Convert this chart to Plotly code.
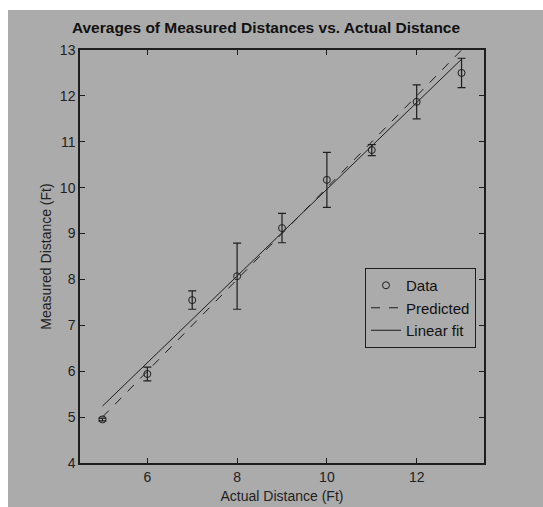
import plotly.graph_objects as go

actual = [5, 6, 7, 8, 9, 10, 11, 12, 13]
measured = [4.95, 5.94, 7.55, 8.07, 9.12, 10.17, 10.82, 11.87, 12.50]
err = [0.03, 0.15, 0.20, 0.72, 0.32, 0.60, 0.12, 0.37, 0.32]

pred_x = [5, 13]
pred_y = [5, 13]

fit_x = [5, 13]
fit_y = [5.24, 12.80]

x_ticks = [6, 8, 10, 12]
y_ticks = [4, 5, 6, 7, 8, 9, 10, 11, 12, 13]

GRAY = "#ababab"
INK = "#1e1e1e"
FONT = "Liberation Sans, Arial, sans-serif"

W, H = 543, 507
L, T, R, B = 80, 50, 484, 463
PW, PH = R - L, B - T

fig = go.Figure()
fig.add_trace(go.Scatter(
    x=actual, y=measured, mode="markers", name="Data",
    marker=dict(symbol="circle-open", size=7, color=INK, line=dict(width=1, color=INK)),
    error_y=dict(type="data", array=err, visible=True, color=INK, thickness=1.2, width=4),
))
fig.add_trace(go.Scatter(
    x=pred_x, y=pred_y, mode="lines", name="Predicted",
    line=dict(color=INK, width=1, dash="dash"),
))
fig.add_trace(go.Scatter(
    x=fit_x, y=fit_y, mode="lines", name="Linear fit",
    line=dict(color=INK, width=1),
))

axis_common = dict(
    showgrid=False, zeroline=False, ticks="inside", ticklen=5, tickwidth=1,
    tickcolor=INK, showline=True, linecolor=INK, linewidth=1.5, mirror="ticks",
    tickfont=dict(family=FONT, size=14, color="#222"), automargin=False,
)

fig.update_layout(
    width=W, height=H,
    paper_bgcolor=GRAY, plot_bgcolor=GRAY,
    margin=dict(l=L, r=W - R, t=T, b=H - B),
    title=dict(text="<b>Averages of Measured Distances vs. Actual Distance</b>",
               x=266 / W, xanchor="center", y=1 - 28 / H, yanchor="middle",
               font=dict(family=FONT, size=15.5, color="#111")),
    xaxis=dict(range=[4.5, 13.5], tickvals=x_ticks,
               title=dict(text="Actual Distance (Ft)", standoff=8,
                          font=dict(family=FONT, size=14, color="#222")),
               **axis_common),
    yaxis=dict(range=[4, 13], tickvals=y_ticks,
               title=dict(text="Measured Distance (Ft)", standoff=5,
                          font=dict(family=FONT, size=14, color="#222")),
               **axis_common),
    showlegend=True,
    legend=dict(x=(365 - L) / PW, y=(B - 268) / PH, xanchor="left", yanchor="top",
                bgcolor=GRAY, bordercolor=INK, borderwidth=1,
                font=dict(family=FONT, size=15, color="#111"),
                tracegroupgap=0, itemwidth=30),
    shapes=[
        dict(type="rect", xref="paper", yref="paper", x0=-1, x1=2,
             y0=(B - 10) / PH, y1=2, fillcolor="white", line=dict(width=0), layer="above"),
        dict(type="rect", xref="paper", yref="paper", x0=-1, x1=(8 - L) / PW,
             y0=-1, y1=2, fillcolor="white", line=dict(width=0), layer="above"),
    ],
)

fig.write_html(
    "out.html",
    config={"displayModeBar": False},
    post_script="document.body.style.margin='0px';document.body.style.overflow='hidden';",
)
